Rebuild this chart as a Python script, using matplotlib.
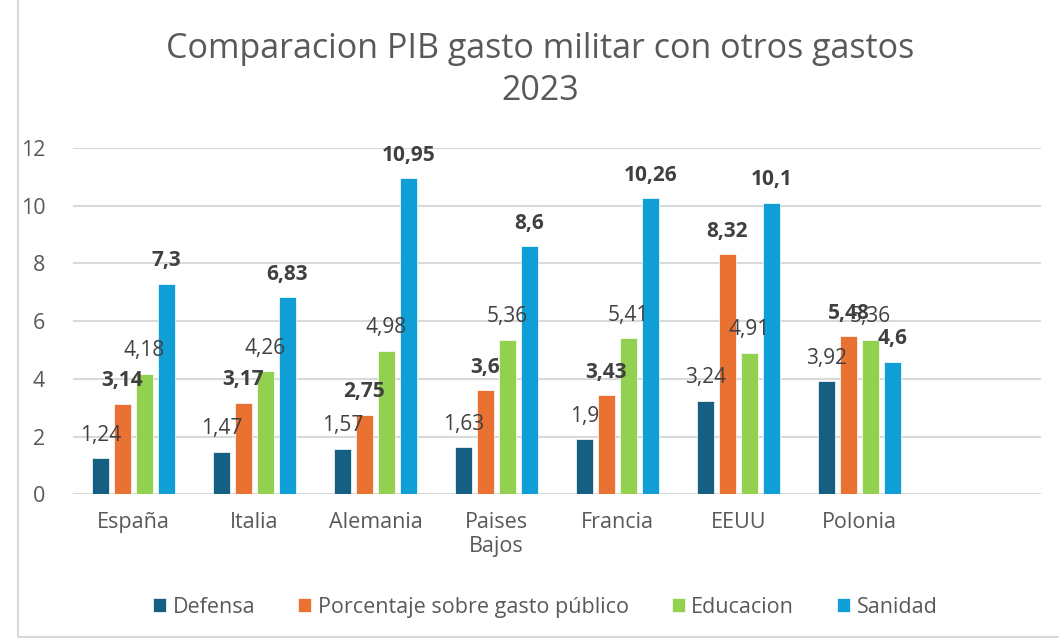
import matplotlib.pyplot as plt
import numpy as np
from matplotlib.patches import Rectangle

plt.rcParams['font.family'] = ['Open Sans', 'DejaVu Sans']

paises = ['España', 'Italia', 'Alemania', 'Paises\nBajos', 'Francia', 'EEUU', 'Polonia']
defensa = [1.24, 1.47, 1.57, 1.63, 1.9, 3.24, 3.92]
porcentaje = [3.14, 3.17, 2.75, 3.6, 3.43, 8.32, 5.48]
educacion = [4.18, 4.26, 4.98, 5.36, 5.41, 4.91, 5.36]
sanidad = [7.3, 6.83, 10.95, 8.6, 10.26, 10.1, 4.6]

series = [
    ('Defensa', defensa, '#156082', False),
    ('Porcentaje sobre gasto público', porcentaje, '#E97132', True),
    ('Educacion', educacion, '#92D050', False),
    ('Sanidad', sanidad, '#0F9ED5', True),
]

gray = '#595959'
fig = plt.figure(figsize=(10.59, 6.41), dpi=100)
ax = fig.add_axes([0.0689, 0.229, 0.914, 0.54])

# light frame of the chart area
fig.patches.append(Rectangle((18 / 1059, 4 / 641), 1.2, 1.2, transform=fig.transFigure,
                             fill=False, edgecolor='#d9d9d9', lw=1.5))

x = np.arange(len(paises))
width = 0.14
step = 0.182
for i, (name, vals, color, bold) in enumerate(series):
    pos = x + (i - 1.5) * step
    bars = ax.bar(pos, vals, width, color=color, label=name, edgecolor='white', lw=0.5, zorder=3)
    labels = [f'{v:g}'.replace('.', ',') for v in vals]
    ax.bar_label(bars, labels=labels, padding=9, fontsize=15, color='#404040',
                 fontweight='bold' if bold else 'normal', zorder=4)

ax.set_xlim(-0.5, 7.5)
ax.set_ylim(0, 12)
ax.set_yticks(range(0, 13, 2))
ax.set_xticks(x)
ax.set_xticklabels(paises)
ax.grid(axis='y', color='#d9d9d9', lw=1.5, zorder=0)
ax.set_axisbelow(True)
for s in ax.spines.values():
    s.set_visible(False)
ax.tick_params(length=0, colors=gray, labelsize=15.5)
ax.tick_params(axis='x', pad=13)
ax.tick_params(axis='y', pad=20)

fig.suptitle('Comparacion PIB gasto militar con otros gastos\n2023', x=0.51, y=0.95,
             fontsize=24.5, color=gray, linespacing=1.3)

fig.legend(loc='center', bbox_to_anchor=(0.515, 0.053), ncol=4, frameon=False,
           fontsize=15.5, labelcolor=gray, handlelength=0.6, handleheight=0.6,
           handletextpad=0.3, columnspacing=2.0)

fig.savefig('out.png', dpi=100)
